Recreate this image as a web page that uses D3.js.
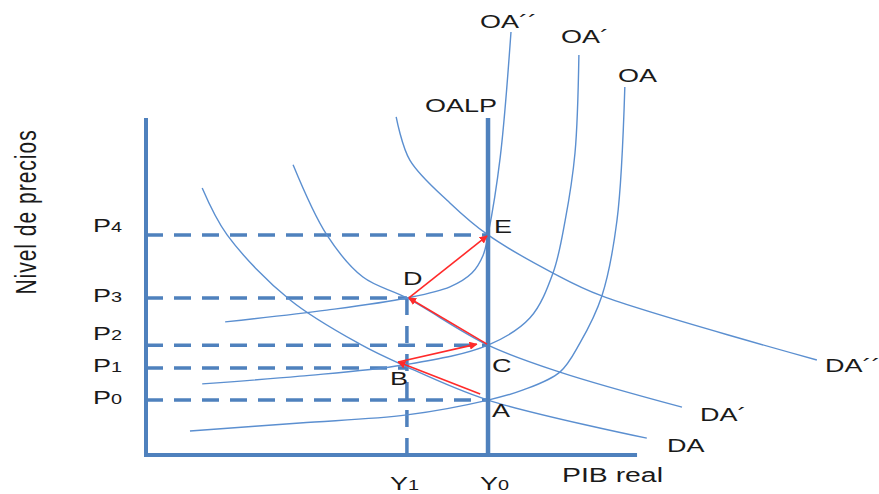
<!DOCTYPE html>
<html>
<head>
<meta charset="utf-8">
<script src="https://cdn.jsdelivr.net/npm/d3@7"></script>
<style>
  html, body { margin: 0; padding: 0; background: #fff; }
  svg { display: block; }
</style>
</head>
<body>
<svg id="chart" width="879" height="494"></svg>
<script>
// Curves in model units: [real output, price level]
const oaCurve   = [[9.0,7.1],[31.5,9.5],[53.4,11.9],[70.0,16.3],[77.2,19.3],[84.7,24.6],[88.8,33.2],[93.3,47.2],[96.4,69.7],[98.0,109.2]];
const oa1Curve  = [[11.5,21.1],[31.5,23.4],[52.6,26.7],[70.0,32.6],[78.6,40.7],[83.3,54.0],[85.8,69.7],[87.8,89.6],[88.6,118.7]];
const oa2Curve  = [[16.2,39.5],[37.0,43.0],[53.4,46.6],[62.2,49.9],[66.7,54.0],[69.0,59.3],[70.0,65.3],[72.5,88.4],[74.7,125.5]];
const daCurve   = [[11.5,79.2],[16.6,65.3],[29.5,46.0],[43.8,32.9],[52.6,26.7],[70.0,16.3],[102.5,5.0]];
const da1Curve  = [[30.1,86.1],[37.0,65.3],[44.4,52.8],[53.4,46.6],[70.0,32.6],[84.7,24.6],[109.7,14.2]];
const da2Curve  = [[51.2,100.3],[54.0,87.5],[62.2,74.8],[70.0,65.3],[83.3,54.0],[93.3,47.2],[137.3,28.2]];

// Output levels
const outputY0 = 70.0;
const outputY1 = 53.4;

// Price levels P0..P4 and the output each guide line runs to
const priceLevels = [16.3, 25.8, 32.6, 46.6, 65.3];
const priceSubs   = ["0", "1", "2", "3", "4"];
const priceReach  = [outputY0, outputY1, outputY0, outputY1, outputY0];

// Equilibrium points
const pointNames = ["A", "B", "C", "D", "E"];
const pointPos   = [[70.0,16.3],[52.6,26.7],[70.0,32.6],[53.4,46.6],[70.0,65.3]];

// Adjustment path (arrows)
const arrowFrom = [[68.4,18.1],[51.6,27.6],[69.8,32.9],[53.8,46.6]];
const arrowTo   = [[51.6,27.6],[67.7,32.9],[53.8,46.6],[69.8,65.0]];

const svg = d3.select("#chart");
const x = d3.scaleLinear().domain([0, 100]).range([146, 634.6]);
const y = d3.scaleLinear().domain([0, 100]).range([455, 118]);

const axisBlue = "#4f81bd";
const curveBlue = "#5b8fd0";
const red = "#ff2a2a";
const font = "'Liberation Sans', Arial, sans-serif";

// Dashed guide lines
const guides = svg.append("g")
  .attr("stroke", axisBlue).attr("stroke-width", 3.5)
  .attr("stroke-dasharray", "17,11").attr("fill", "none");
priceLevels.forEach((p, i) => {
  guides.append("line")
    .attr("x1", x(0)).attr("x2", x(priceReach[i]))
    .attr("y1", y(p)).attr("y2", y(p));
});
guides.append("line")
  .attr("x1", x(outputY1)).attr("x2", x(outputY1))
  .attr("y1", y(priceLevels[3])).attr("y2", y(-2.2));

// Curves
const line = d3.line().x(d => x(d[0])).y(d => y(d[1])).curve(d3.curveCatmullRom.alpha(0.5));
const curves = svg.append("g").attr("fill", "none").attr("stroke", curveBlue).attr("stroke-width", 1.4);
[oaCurve, oa1Curve, oa2Curve, daCurve, da1Curve, da2Curve].forEach(c => {
  curves.append("path").attr("d", line(c));
});

// Axes
svg.append("path")
  .attr("d", `M${x(0)},${y(100)} V${y(0)} H${x(100.5)}`)
  .attr("fill", "none").attr("stroke", axisBlue).attr("stroke-width", 4);

// Long-run supply (OALP)
svg.append("line")
  .attr("x1", x(outputY0)).attr("x2", x(outputY0))
  .attr("y1", y(100)).attr("y2", y(0))
  .attr("stroke", axisBlue).attr("stroke-width", 4.5);

// Arrows
const defs = svg.append("defs");
defs.append("marker")
  .attr("id", "head").attr("viewBox", "0 0 10 10")
  .attr("refX", 9).attr("refY", 5)
  .attr("markerWidth", 5).attr("markerHeight", 5)
  .attr("orient", "auto")
  .append("path").attr("d", "M0,0 L10,5 L0,10 z").attr("fill", red);

const arrows = svg.append("g").attr("stroke", red).attr("stroke-width", 1.6);
arrowFrom.forEach((f, i) => {
  const t = arrowTo[i];
  arrows.append("line")
    .attr("x1", x(f[0])).attr("y1", y(f[1]))
    .attr("x2", x(t[0])).attr("y2", y(t[1]))
    .attr("marker-end", "url(#head)");
});

// Text helper: horizontally stretched labels
function label(txt, px, py, size, sub, subSize) {
  const t = svg.append("text")
    .attr("transform", `translate(${px},${py}) scale(1.42,1)`)
    .attr("font-family", font).attr("font-size", size)
    .attr("fill", "#1a1a1a");
  t.append("tspan").text(txt);
  if (sub) t.append("tspan").attr("font-size", subSize).text(sub);
  return t;
}

// Curve labels
label("OA\u00b4\u00b4", 480, 28, 19);
label("OA\u00b4", 561, 43, 19);
label("OA", 618, 82, 19);
label("OALP", 425, 112, 19);
label("DA\u00b4\u00b4", 825, 372, 19);
label("DA\u00b4", 700, 421, 19);
label("DA", 667, 452, 19);

// Price level labels
const priceLabelBase = [404, 372, 340, 302, 232];
priceLevels.forEach((p, i) => {
  label("P", 93, priceLabelBase[i], 19, priceSubs[i], 14);
});

// Output labels
label("Y", 390, 490, 19, "1", 14);
label("Y", 480, 490, 19, "0", 14);
label("PIB real", 562, 482, 20);

// Point labels
const pointLabelPos = [[492,417],[390,385],[492,372],[403,285],[494,233]];
pointNames.forEach((n, i) => label(n, pointLabelPos[i][0], pointLabelPos[i][1], 19));

// Vertical axis title
svg.append("text")
  .attr("transform", "translate(36,212) scale(1.42,1) rotate(-90)")
  .attr("text-anchor", "middle")
  .attr("font-family", font).attr("font-size", 21)
  .attr("letter-spacing", 1)
  .attr("fill", "#1a1a1a")
  .text("Nivel de precios");
</script>
</body>
</html>
